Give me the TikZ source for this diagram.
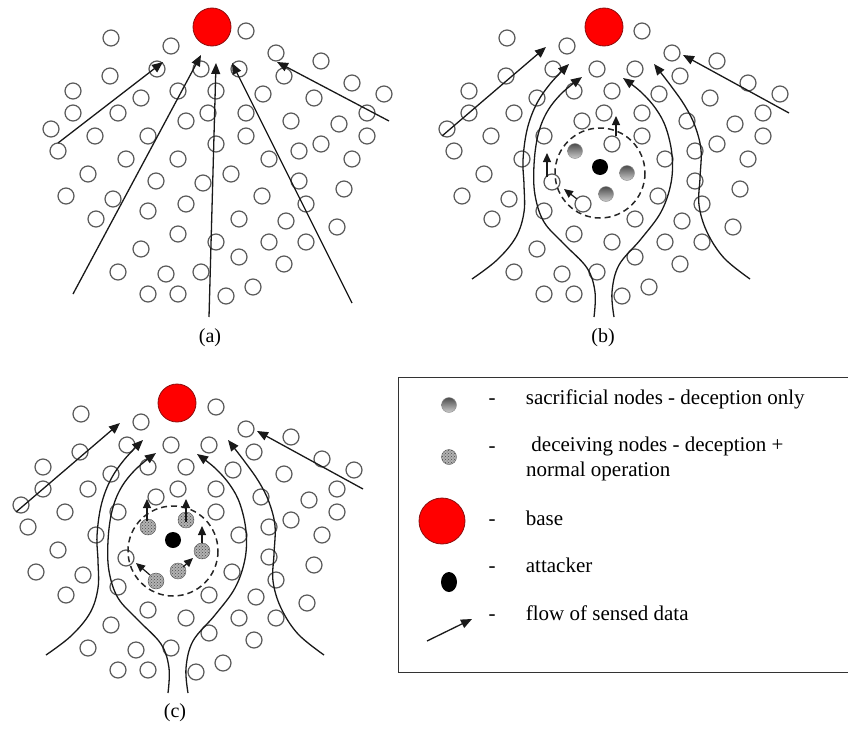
\documentclass[tikz,border=0pt]{standalone}
\usepackage{fontspec}
\setmainfont{Liberation Serif}
\usetikzlibrary{positioning, arrows.meta, patterns, shapes.geometric}
\definecolor{BaseColor}{rgb}{1.0,0.0,0.0}
\definecolor{BaseEdge}{rgb}{0.55,0.05,0.05}
\definecolor{SensorEdge}{rgb}{0.35,0.35,0.35}
\tikzset{
    sensor/.style={
        circle,
        minimum size=16pt,
        inner sep=0pt,
        draw=SensorEdge,
        fill=white,
        line width=1.2pt
    },
    basestation/.style={circle, minimum size=38pt, inner sep=0pt, draw=BaseEdge, fill=BaseColor, line width=0.8pt},
    sacrificial/.style={circle, minimum size=15pt, inner sep=0pt, draw=black!45, top color=black!70, bottom color=black!20},
    deceiving/.style={circle, minimum size=16pt, inner sep=0pt, draw=black!65, fill=black!30, postaction={pattern=crosshatch dots, pattern color=black!70}},
    attacker/.style={circle, minimum size=16pt, inner sep=0pt, fill=black},
    flow/.style={-{Triangle[length=11pt, width=9pt]}, line width=1.3pt, draw=black!90},
    shortflow/.style={-{Triangle[length=9pt, width=8pt]}, line width=1.2pt, draw=black!90},
    zone/.style={dash pattern=on 6pt off 4pt, line width=1.5pt, draw=black!85},
    panel/.style={font=\fontsize{20}{24}\selectfont, inner sep=0pt},
    legtext/.style={font=\fontsize{21}{25}\selectfont, inner sep=0pt, align=left}
}

% sensor nodes that look the same in every panel
\newcommand\sensorfield{%
    \foreach \pt [count=\i] in {(111,38), (171,46), (246,31), (276,53), (321,61), (157,69), (201,69),
        (239,69), (284,76), (110,76), (352,83), (384,94), (73,91), (141,98), (178,91), (216,91),
        (263,94), (314,98), (73,113), (118,113), (208,113), (246,113), (367,113), (51,129),
        (186,121), (291,121), (339,124), (95,136), (148,136), (246,136), (367,136), (58,151),
        (321,144), (126,159), (269,159), (299,151), (352,159), (88,174), (299,181), (66,196),
        (113,199), (262,196), (344,189), (306,204), (96,219), (148,211), (239,219), (286,221),
        (337,227), (178,234), (216,242), (269,242), (306,242), (141,249), (239,257), (284,264),
        (118,272), (166,274), (201,272), (253,287), (148,294), (178,294), (226,296)}
        \node[sensor] (s\i) at \pt {};
}

% data flow bending round the attacker
\newcommand\flowpaths{%
    \draw[flow] (46,136) -- (150,47);
    \draw[flow] (393,113) -- (287,55);
    \draw[flow] plot[smooth, tension=0.6] coordinates {(76,279) (101,260) (120,237) (128,212)
        (128,185) (127,160) (131,130) (140,105) (154,84) (173,64)};
    \draw[flow] plot[smooth, tension=0.6] coordinates {(198,317) (199,292) (191,268) (168,244)
        (148,222) (139,195) (138,165) (142,135) (151,112) (166,93) (186,77)};
    \draw[flow] plot[smooth, tension=0.6] coordinates {(218,317) (216,292) (223,265) (245,239)
        (265,212) (275,183) (276,155) (270,128) (260,109) (245,92) (227,78)};
    \draw[flow] plot[smooth, tension=0.6] coordinates {(354,279) (328,258) (311,232) (303,205)
        (304,178) (305,150) (299,126) (289,106) (275,86) (258,64)};
}

\begin{document}
\begin{tikzpicture}[x=1pt, y=-1pt]
\useasboundingbox (0,0) rectangle (848,728);

% Panel (a)
\begin{scope}
\sensorfield
\foreach \pt [count=\i] in {(216,144), (178,159), (231,174), (156,181), (203,183), (186,204)}
    \node[sensor] (a\i) at \pt {};
\node[basestation] (base-a) at (212,27) {};
\draw[flow] (58,143) -- (163,62);
\draw[flow] (73,294) -- (201,55);
\draw[flow] (209,317) -- (216,63);
\draw[flow] (352,303) -- (232,63);
\draw[flow] (389,121) -- (277,62);
\node[panel] (lab-a) at (210,338) {(a)};
\end{scope}

% Panel (b)
\begin{scope}[shift={(396,0)}]
\sensorfield
\node[sensor] (b1) at (216,144) {};
\node[sensor] (b2) at (156,182) {};
\node[sensor] (b3) at (187,204) {};
\node[sacrificial] (sac1) at (179,151) {};
\node[sacrificial] (sac2) at (231,173) {};
\node[sacrificial] (sac3) at (210,194) {};
\node[attacker] (att-b) at (204,167) {};
\draw[zone] (204,173) circle (45);
\node[basestation] (base-b) at (208,27) {};
\flowpaths
\draw[shortflow] (220,136) -- (220,116);
\draw[shortflow] (151,177) -- (151,153);
\draw[shortflow] (181,199) -- (168,189);
\node[panel] (lab-b) at (207,338) {(b)};
\end{scope}

% Panel (c)
\begin{scope}[shift={(-30,376)}]
\sensorfield
\node[sensor] (c1) at (156,182) {};
\node[deceiving] (dec1) at (178,151) {};
\node[deceiving] (dec2) at (216,144) {};
\node[deceiving] (dec3) at (232,175) {};
\node[deceiving] (dec4) at (208,195) {};
\node[deceiving] (dec5) at (186,205) {};
\node[attacker] (att-c) at (203,164) {};
\draw[zone] (203,175) circle (45);
\node[basestation] (base-c) at (207,27) {};
\flowpaths
\draw[shortflow] (177,145) -- (177,123);
\draw[shortflow] (216,146) -- (216,123);
\draw[shortflow] (232,167) -- (232,150);
\draw[shortflow] (213,191) -- (223,182);
\draw[shortflow] (180,199) -- (166,187);
\node[panel] (lab-c) at (205,337) {(c)};
\end{scope}

% Legend
\draw[line width=1pt, draw=black!80] (852,377) -- (398,377) -- (398,672) -- (852,672);

\node[sacrificial] (key-sac) at (449,405) {};
\node[legtext, anchor=base] (dash-sac) at (492,404) {-};
\node[legtext, base right=30pt of dash-sac] (txt-sac) {sacrificial nodes - deception only};

\node[deceiving, minimum size=15pt] (key-dec) at (449,457) {};
\node[legtext, anchor=base] (dash-dec) at (492,452) {-};
\node[legtext, anchor=north west] (txt-dec) at (526,437) {\ deceiving nodes - deception +\\normal operation};

\node[basestation, minimum size=46pt] (key-base) at (442,521) {};
\node[legtext, anchor=base] (dash-base) at (492,525) {-};
\node[legtext, base right=30pt of dash-base] (txt-base) {base};

\node[attacker, ellipse, minimum width=16pt, minimum height=20pt] (key-att) at (449,582) {};
\node[legtext, anchor=base] (dash-att) at (492,572) {-};
\node[legtext, base right=30pt of dash-att] (txt-att) {attacker};

\coordinate (key-flow-a) at (427,641);
\coordinate (key-flow-b) at (472,619);
\draw[flow] (key-flow-a) -- (key-flow-b);
\node[legtext, anchor=base] (dash-flow) at (492,620) {-};
\node[legtext, base right=30pt of dash-flow] (txt-flow) {flow of sensed data};

\end{tikzpicture}
\end{document}
